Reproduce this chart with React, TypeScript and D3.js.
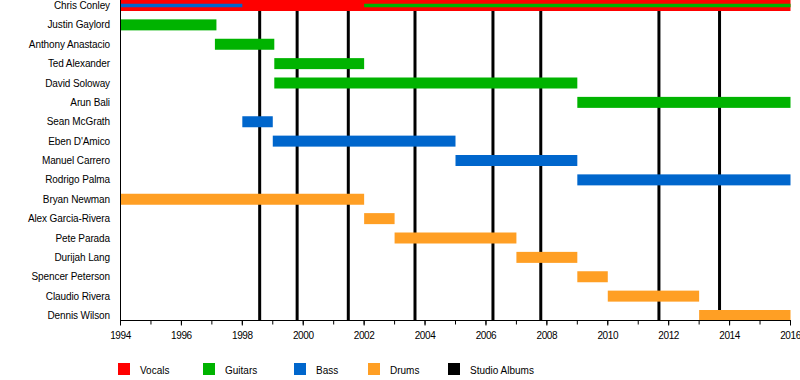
import React from "react";
import * as d3 from "d3";

const members = [
  "Chris Conley", "Justin Gaylord", "Anthony Anastacio", "Ted Alexander", "David Soloway",
  "Arun Bali", "Sean McGrath", "Eben D'Amico", "Manuel Carrero", "Rodrigo Palma",
  "Bryan Newman", "Alex Garcia-Rivera", "Pete Parada", "Durijah Lang", "Spencer Peterson",
  "Claudio Rivera", "Dennis Wilson",
];

const roles = ["Vocals", "Guitars", "Bass", "Drums", "Studio Albums"];
const roleColors = ["#ff0000", "#00b300", "#0066cc", "#ff9f24", "#000000"];

// [member, role, from, to]
const mainBars: [string, string, number, number][] = [
  ["Chris Conley", "Vocals", 1994, 2016],
  ["Justin Gaylord", "Guitars", 1994, 1997.15],
  ["Anthony Anastacio", "Guitars", 1997.1, 1999.05],
  ["Ted Alexander", "Guitars", 1999.05, 2002],
  ["David Soloway", "Guitars", 1999.05, 2009],
  ["Arun Bali", "Guitars", 2009, 2016],
  ["Sean McGrath", "Bass", 1998, 1999],
  ["Eben D'Amico", "Bass", 1999, 2005],
  ["Manuel Carrero", "Bass", 2005, 2009],
  ["Rodrigo Palma", "Bass", 2009, 2016],
  ["Bryan Newman", "Drums", 1994, 2002],
  ["Alex Garcia-Rivera", "Drums", 2002, 2003],
  ["Pete Parada", "Drums", 2003, 2007],
  ["Durijah Lang", "Drums", 2007, 2009],
  ["Spencer Peterson", "Drums", 2009, 2010],
  ["Claudio Rivera", "Drums", 2010, 2013],
  ["Dennis Wilson", "Drums", 2013, 2016],
];

const stripeBars: [string, string, number, number][] = [
  ["Chris Conley", "Bass", 1994, 1998],
  ["Chris Conley", "Guitars", 2002, 2016],
];

const albums = [1998.57, 1999.8, 2001.48, 2003.67, 2006.23, 2007.8, 2011.68, 2013.67];

const majorTicks = d3.range(1994, 2017, 2);
const minorTicks = d3.range(1994, 2017, 1);

const legendX = [118, 203, 294, 368, 448];

export default function App() {
  const W = 800, H = 380;
  const x = d3.scaleLinear().domain([1994, 2016]).range([120.5, 790.5]);
  const y = d3.scalePoint<string>().domain(members).range([5.5, 315.5]);
  const color = d3.scaleOrdinal<string, string>().domain(roles).range(roleColors);
  const barH = 11;
  const stripeH = 3.5;
  const axisY = 320.5;
  const font = "'Liberation Sans', Arial, sans-serif";

  return (
    <svg width={W} height={H} style={{ position: "absolute", left: 0, top: 0, background: "#fff" }}
      fontFamily={font} fontSize={10}>
      {albums.map((a, i) => (
        <line key={"al" + i} x1={x(a)} x2={x(a)} y1={10} y2={axisY} stroke="#000" strokeWidth={3} />
      ))}
      {mainBars.map(([m, r, f, t], i) => (
        <rect key={"b" + i} x={x(f)} y={y(m)! - barH / 2} width={x(t) - x(f)} height={barH} fill={color(r)} />
      ))}
      {stripeBars.map(([m, r, f, t], i) => (
        <rect key={"s" + i} x={x(f)} y={y(m)! - stripeH / 2} width={x(t) - x(f)} height={stripeH} fill={color(r)} />
      ))}
      {members.map((m) => (
        <text key={m} x={110} y={y(m)! + 3.5} textAnchor="end" fill="#000" letterSpacing={-0.1}>{m}</text>
      ))}
      <line x1={120.5} x2={120.5} y1={0} y2={axisY} stroke="#000" strokeWidth={1} />
      <line x1={120} x2={791} y1={axisY} y2={axisY} stroke="#000" strokeWidth={1} />
      {minorTicks.map((t) => (
        <line key={"mt" + t} x1={x(t)} x2={x(t)} y1={axisY} y2={axisY + 4} stroke="#000" strokeWidth={1} />
      ))}
      {majorTicks.map((t) => (
        <g key={"t" + t}>
          <line x1={x(t)} x2={x(t)} y1={axisY} y2={axisY + 5} stroke="#000" strokeWidth={1} />
          <text x={x(t)} y={339} textAnchor="middle" fill="#000" letterSpacing={-0.4}>{t}</text>
        </g>
      ))}
      {roles.map((r, i) => (
        <g key={"lg" + r}>
          <rect x={legendX[i]} y={363} width={12} height={12} fill={color(r)} />
          <text x={legendX[i] + 22} y={374} fill="#000">{r}</text>
        </g>
      ))}
    </svg>
  );
}
